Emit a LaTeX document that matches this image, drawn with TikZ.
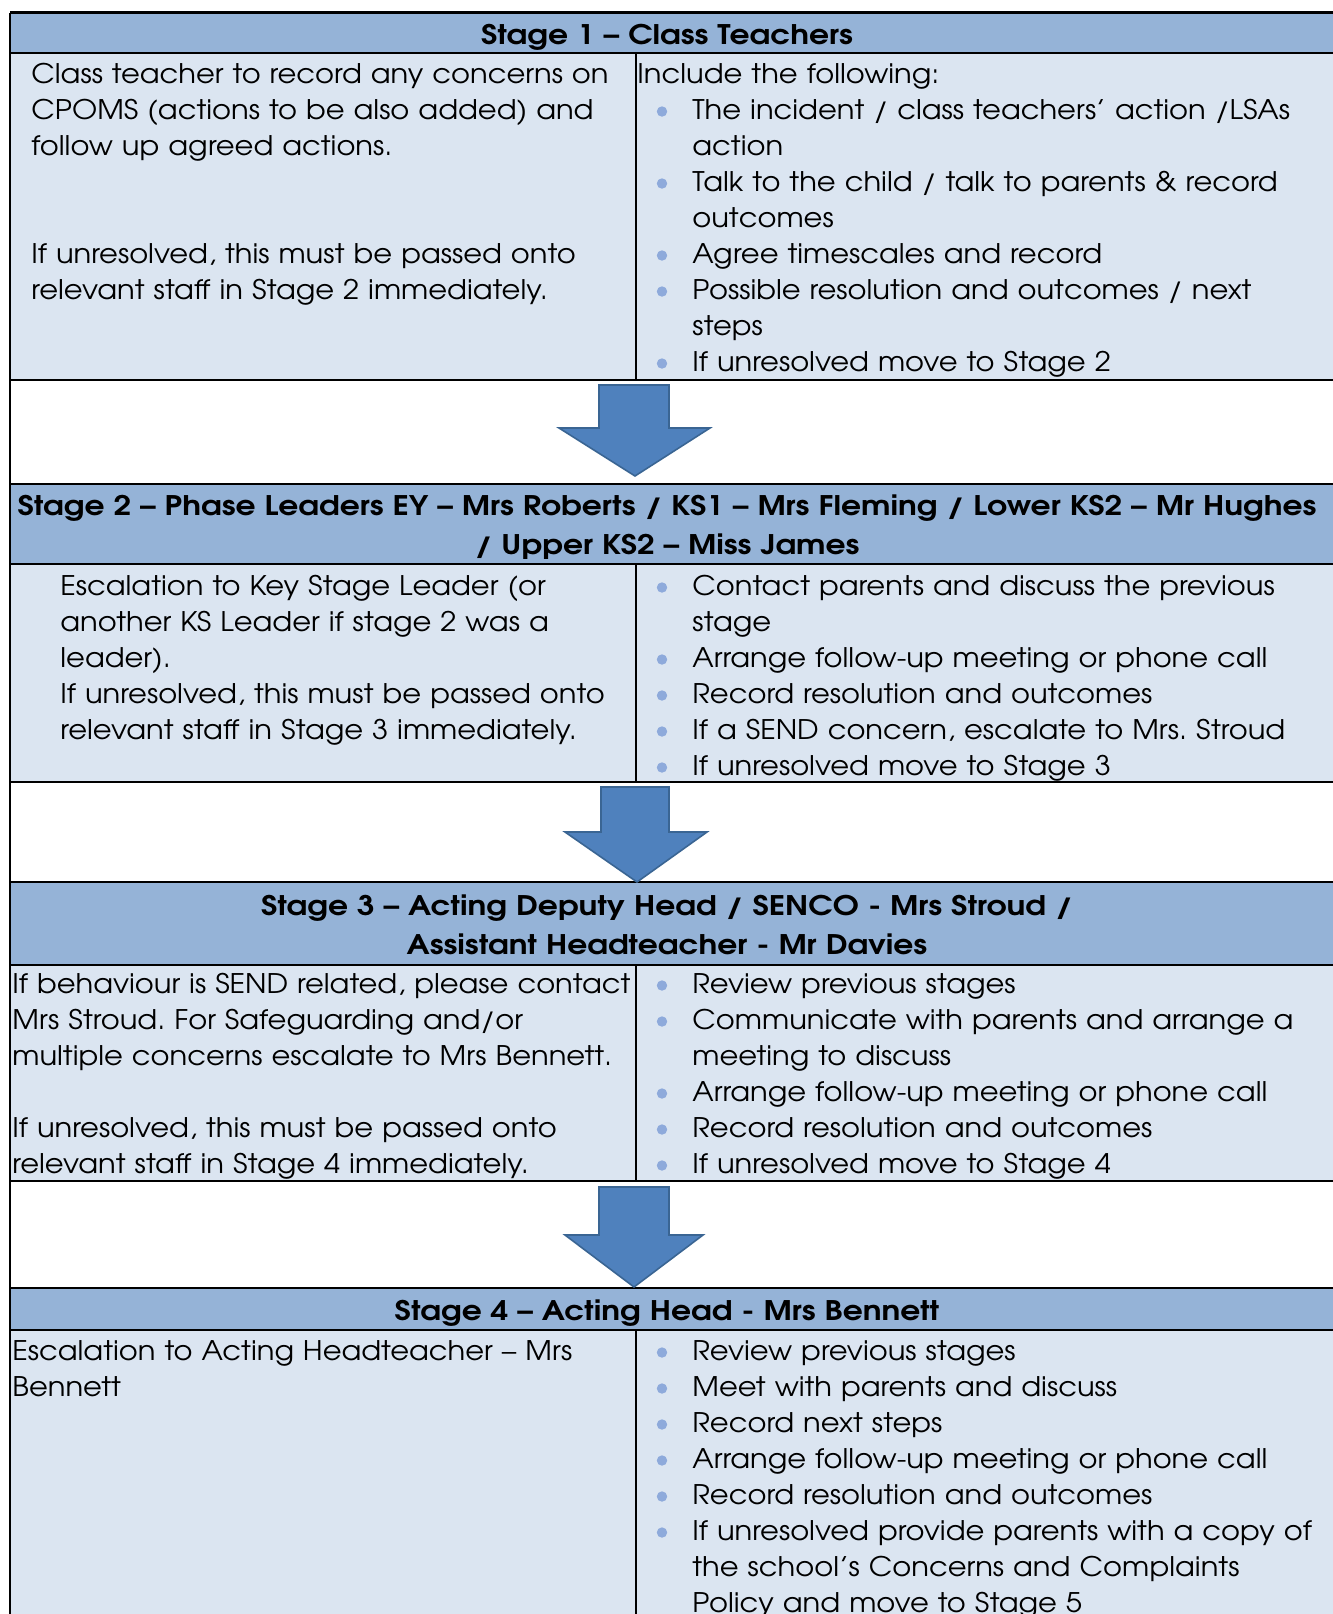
\documentclass[tikz,border=0pt]{standalone}
\usepackage{fontspec}
\setmainfont{texgyreadventor}[Extension=.otf,
                              UprightFont=*-regular,
                              BoldFont=*-bold,
                              ItalicFont=*-italic,
                              BoldItalicFont=*-bolditalic,
                              UprightFeatures={FakeStretch=1.073},
                              BoldFeatures={FakeStretch=1.16}]
\usepackage{tikz}
\definecolor{headblue}{HTML}{95B3D7}
\definecolor{bodyblue}{HTML}{DBE5F1}
\definecolor{arrowblue}{HTML}{4F81BD}
\definecolor{arrowline}{HTML}{3A6593}
\definecolor{bulletblue}{HTML}{8EAADB}
\frenchspacing

\begin{document}
\begin{tikzpicture}[x = 0.5pt, y = -0.5pt]
  \useasboundingbox (0,0) rectangle (1333,1614);
  \tikzset{HeadStyle/.style  = {anchor     = base,
                                inner sep  = 0pt,
                                align      = center,
                                text width = 665pt,
                                font       = \bfseries\fontsize{13.5pt}{19.5pt}\selectfont}}
  \tikzset{CellStyle/.style  = {anchor     = base west,
                                inner sep  = 0pt,
                                align      = left,
                                text width = 320pt,
                                font       = \fontsize{13.5pt}{18pt}\selectfont}}
  \tikzset{ArrowStyle/.style = {fill       = arrowblue,
                                draw       = arrowline,
                                line width = 0.8pt}}
  \tikzset{GridStyle/.style  = {line width = 1.2pt}}

  % cell backgrounds
     \fill[headblue] (10,12.5) rectangle (1333,53);
     \fill[bodyblue] (10,53)   rectangle (1333,380);
     \fill[headblue] (10,484)  rectangle (1333,564);
     \fill[bodyblue] (10,564)  rectangle (1333,782);
     \fill[headblue] (10,882)  rectangle (1333,965);
     \fill[bodyblue] (10,965)  rectangle (1333,1181);
     \fill[headblue] (10,1288) rectangle (1333,1330);
     \fill[bodyblue] (10,1330) rectangle (1333,1614);

  % grid
     \foreach \y in {12.5,53,380,484,564,782,882,965,1181,1288,1330}
        \draw[GridStyle] (10,\y) -- (1333,\y);
     \draw[GridStyle] (10,12.5) -- (10,1614);
     \draw[GridStyle] (636,53)   -- (636,380);
     \draw[GridStyle] (636,564)  -- (636,782);
     \draw[GridStyle] (636,965)  -- (636,1181);
     \draw[GridStyle] (636,1330) -- (636,1614);

  % stage 1
     \node[HeadStyle] (head1) at (667,44) {Stage 1 – Class Teachers};
     \node[CellStyle] (left1) at (31,83)
        {Class teacher to record any concerns on\\
         CPOMS (actions to be also added) and\\
         follow up agreed actions.\\[36pt]
         If unresolved, this must be passed onto\\
         relevant staff in Stage 2 immediately.};
     \node[CellStyle] (intro1) at (637,83) {Include the following:};
     \node[CellStyle] (right1) at (692,119)
        {The incident / class teachers’ action /LSAs\\
         action\\
         Talk to the child / talk to parents \& record\\
         outcomes\\
         Agree timescales and record\\
         Possible resolution and outcomes / next\\
         steps\\
         If unresolved move to Stage 2};

  % stage 2
     \node[HeadStyle] (head2) at (667,515)
        {Stage 2 – Phase Leaders EY – Mrs Roberts / KS1 – Mrs Fleming / Lower KS2 – Mr Hughes\\
         / Upper KS2 – Miss James};
     \node[CellStyle] (left2) at (60,595)
        {Escalation to Key Stage Leader (or\\
         another KS Leader if stage 2 was a\\
         leader).\\
         If unresolved, this must be passed onto\\
         relevant staff in Stage 3 immediately.};
     \node[CellStyle] (right2) at (692,595)
        {Contact parents and discuss the previous\\
         stage\\
         Arrange follow-up meeting or phone call\\
         Record resolution and outcomes\\
         If a SEND concern, escalate to Mrs. Stroud\\
         If unresolved move to Stage 3};

  % stage 3
     \node[HeadStyle] (head3) at (667,915)
        {Stage 3 – Acting Deputy Head / SENCO - Mrs Stroud /\\
         Assistant Headteacher - Mr Davies};
     \node[CellStyle] (left3) at (12,993)
        {If behaviour is SEND related, please contact\\
         Mrs Stroud. For Safeguarding and/or\\
         multiple concerns escalate to Mrs Bennett.\\[18pt]
         If unresolved, this must be passed onto\\
         relevant staff in Stage 4 immediately.};
     \node[CellStyle] (right3) at (692,993)
        {Review previous stages\\
         Communicate with parents and arrange a\\
         meeting to discuss\\
         Arrange follow-up meeting or phone call\\
         Record resolution and outcomes\\
         If unresolved move to Stage 4};

  % stage 4
     \node[HeadStyle] (head4) at (667,1320) {Stage 4 – Acting Head - Mrs Bennett};
     \node[CellStyle] (left4) at (12,1360)
        {Escalation to Acting Headteacher – Mrs\\
         Bennett};
     \node[CellStyle] (right4) at (692,1360)
        {Review previous stages\\
         Meet with parents and discuss\\
         Record next steps\\
         Arrange follow-up meeting or phone call\\
         Record resolution and outcomes\\
         If unresolved provide parents with a copy of\\
         the school’s Concerns and Complaints\\
         Policy and move to Stage 5};

  % bullets
     \foreach \y in {119,191,263,299,371,
                     595,667,703,739,775,
                     993,1029,1101,1137,1173,
                     1360,1396,1432,1468,1504,1540}
        \fill[bulletblue] (662,\y-7.5) circle[radius = 2.6pt];

  % arrows between stages
     \draw[ArrowStyle] (599,385) -- (669,385) -- (669,428) -- (710,428)
                       -- (635,476) -- (559,428) -- (599,428) -- cycle;
     \draw[ArrowStyle] (601,787) -- (669,787) -- (669,832) -- (707,832)
                       -- (637,882) -- (565,832) -- (601,832) -- cycle;
     \draw[ArrowStyle] (599,1187) -- (669,1187) -- (669,1235) -- (703,1235)
                       -- (634,1287) -- (565,1235) -- (599,1235) -- cycle;
\end{tikzpicture}
\end{document}
